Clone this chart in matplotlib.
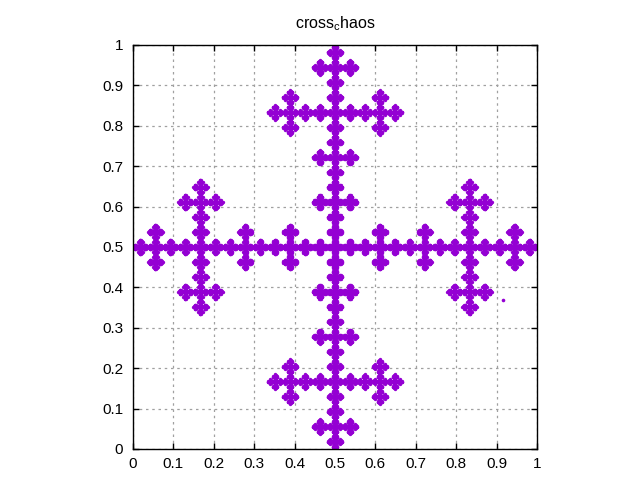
import numpy as np
import matplotlib
matplotlib.use("Agg")
import matplotlib.pyplot as plt

# cross-shaped IFS: five maps, each scales by 1/3 then shifts
scale = 1 / 3
shift_x = [1 / 3, 0.0, 2 / 3, 1 / 3, 1 / 3]
shift_y = [1 / 3, 1 / 3, 1 / 3, 0.0, 2 / 3]
seed_point = (0.5, 0.5)
depth = 6

# a lone point left over from the start of the chaos game
stray_x = [0.915]
stray_y = [0.369]

ticks = [0, 0.1, 0.2, 0.3, 0.4, 0.5, 0.6, 0.7, 0.8, 0.9, 1]
tick_labels = ["0", "0.1", "0.2", "0.3", "0.4", "0.5", "0.6", "0.7", "0.8", "0.9", "1"]

plt.rcParams["font.family"] = ["Liberation Sans", "DejaVu Sans"]
plt.rcParams["mathtext.fontset"] = "custom"
plt.rcParams["mathtext.rm"] = "Liberation Sans"
plt.rcParams["mathtext.it"] = "Liberation Sans"


def attractor(depth):
    xs = np.array([seed_point[0]])
    ys = np.array([seed_point[1]])
    sx = np.array(shift_x)
    sy = np.array(shift_y)
    for _ in range(depth):
        xs = (xs[None, :] * scale + sx[:, None]).ravel()
        ys = (ys[None, :] * scale + sy[:, None]).ravel()
    return xs, ys


xs, ys = attractor(depth)

fig = plt.figure(figsize=(6.4, 4.8), dpi=100)
ax = fig.add_axes([133 / 640, 1 - 449 / 480, 404 / 640, 404 / 480])

color = "#9400d3"
ax.plot(xs, ys, "o", color=color, markersize=2.4, markeredgewidth=0)
ax.plot(stray_x, stray_y, "o", color=color, markersize=2.6, markeredgewidth=0)

ax.set_xlim(0, 1)
ax.set_ylim(0, 1)
ax.set_xticks(ticks)
ax.set_yticks(ticks)
ax.set_xticklabels(tick_labels)
ax.set_yticklabels(tick_labels)
ax.tick_params(direction="in", top=True, right=True, length=4, width=1,
               labelsize=11, colors="black")
ax.tick_params(axis="x", pad=6)
ax.tick_params(axis="y", pad=7)
ax.grid(True, color="#a0a0a0", linestyle=(0, (2, 3)), linewidth=0.9)
ax.set_axisbelow(True)
for s in ax.spines.values():
    s.set_linewidth(1)

ax.set_title(r"cross$_\mathrm{c}$haos", fontsize=11.5, pad=12)

fig.savefig("out.png", dpi=100)
